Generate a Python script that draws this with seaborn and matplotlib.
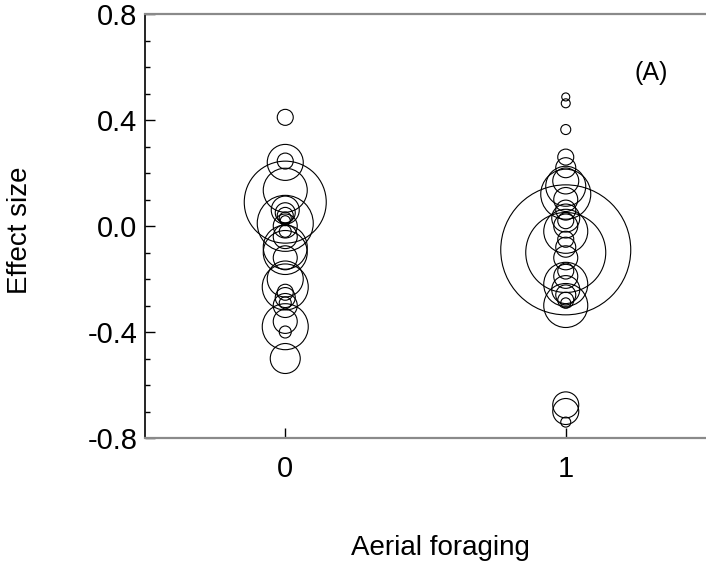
import numpy as np
import pandas as pd
import matplotlib
matplotlib.use('Agg')
import matplotlib.pyplot as plt
from matplotlib.ticker import MultipleLocator
import seaborn as sns

# Effect sizes, with the bubble weight (relative circle area)
effect_0 = [0.41, 0.24, 0.245, 0.135, 0.09, 0.06, 0.05, 0.04, 0.03, 0.02,
            0.01, 0.00, -0.02, -0.04, -0.08, -0.10, -0.12, -0.20, -0.23,
            -0.25, -0.27, -0.29, -0.30, -0.36, -0.38, -0.40, -0.50]
weight_0 = [64, 324, 64, 484, 1681, 196, 100, 64, 36, 25,
            784, 144, 36, 144, 484, 484, 144, 324, 529,
            64, 100, 36, 144, 144, 529, 36, 225]

effect_1 = [0.487, 0.463, 0.364, 0.26, 0.22, 0.17, 0.15, 0.12, 0.10, 0.06,
            0.03, 0.02, 0.00, -0.02, -0.05, -0.08, -0.09, -0.10, -0.12,
            -0.17, -0.19, -0.22, -0.24, -0.26, -0.28, -0.29, -0.30,
            -0.675, -0.70, -0.74]
weight_1 = [16, 20, 25, 64, 100, 169, 400, 625, 144, 100,
            196, 64, 144, 484, 64, 100, 4225, 1600, 144,
            64, 144, 484, 196, 100, 64, 25, 484,
            169, 169, 25]

df = pd.DataFrame({
    'aerial': [0] * len(effect_0) + [1] * len(effect_1),
    'effect': effect_0 + effect_1,
    'weight': weight_0 + weight_1,
})

plt.rcParams['font.family'] = ['Liberation Sans', 'DejaVu Sans']

fig = plt.figure(figsize=(7.06, 5.67), dpi=100)
ax = fig.add_axes([145 / 706, 129 / 567, 561 / 706, 424 / 567])

# circle area proportional to weight (weight ~ radius^2 in pixels)
k = 1.44 ** 2
wmin, wmax = df['weight'].min(), df['weight'].max()
sns.scatterplot(data=df, x='aerial', y='effect', size='weight',
                sizes=(k * wmin, k * wmax), size_norm=(wmin, wmax),
                facecolors='none', edgecolor='black', linewidth=0.8,
                legend=False, ax=ax, clip_on=False)
for coll in ax.collections:
    coll.set_facecolor('none')
    coll.set_edgecolor('black')

ax.set_xlim(-0.5, 1.5)
ax.set_ylim(-0.8, 0.8)
ax.set_xticks([0, 1])
ax.yaxis.set_major_locator(MultipleLocator(0.4))
ax.yaxis.set_minor_locator(MultipleLocator(0.1))
ax.yaxis.set_major_formatter(matplotlib.ticker.FormatStrFormatter('%.1f'))

ax.tick_params(axis='both', which='major', direction='in', length=7,
               width=1, labelsize=21)
ax.tick_params(axis='y', which='major', pad=5.5)
ax.tick_params(axis='x', which='major', pad=12)
ax.tick_params(axis='y', which='minor', direction='in', length=3.6, width=1)

ax.spines['right'].set_visible(False)
ax.spines['left'].set_color('black')
ax.spines['left'].set_linewidth(1.2)
for side in ['top', 'bottom']:
    ax.spines[side].set_color('#8a8a8a')
    ax.spines[side].set_linewidth(1.6)

ax.set_xlabel('Aerial foraging', fontsize=20)
ax.set_ylabel('Effect size', fontsize=20)
ax.xaxis.set_label_coords(0.526, -0.229)
ax.yaxis.set_label_coords(-0.2, 0.49)

ax.text(0.902, 0.861, '(A)', transform=ax.transAxes, fontsize=18,
        ha='center', va='center')

fig.savefig('out.png', dpi=100)
